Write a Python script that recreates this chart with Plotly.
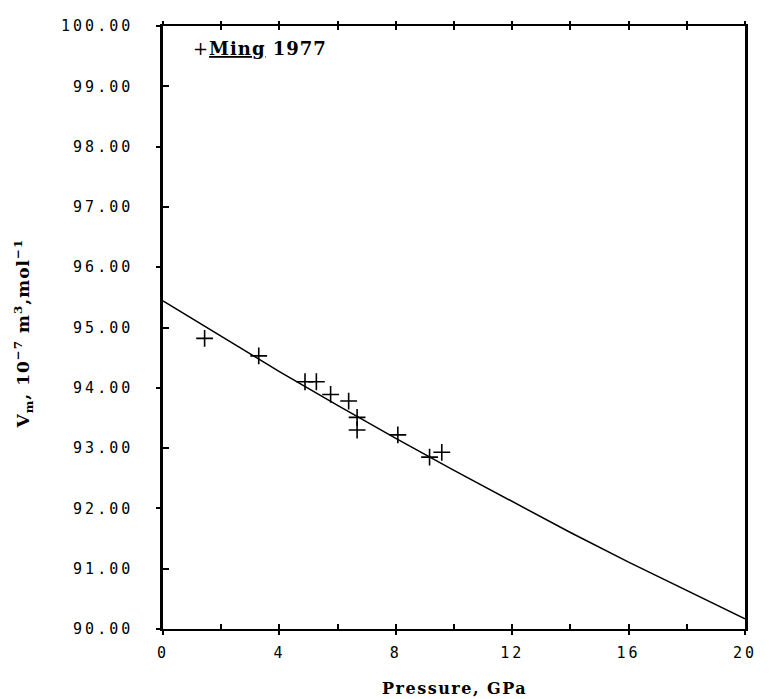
import plotly.graph_objects as go

# Data
pressure_pts = [1.43, 3.29, 4.88, 5.27, 5.76, 6.38, 6.67, 6.67, 8.07, 9.16, 9.58]
volume_pts = [94.82, 94.53, 94.10, 94.10, 93.89, 93.78, 93.51, 93.30, 93.22, 92.85, 92.93]

pressure_fit = [0, 2, 4, 6, 8, 10, 12, 14, 16, 18, 20]
volume_fit = [95.44, 94.85, 94.27, 93.71, 93.16, 92.63, 92.11, 91.60, 91.11, 90.64, 90.17]

x_label_vals = [0, 4, 8, 12, 16, 20]
x_minor_vals = [0, 2, 4, 6, 8, 10, 12, 14, 16, 18, 20]
y_label_vals = [90, 91, 92, 93, 94, 95, 96, 97, 98, 99, 100]
y_label_text = ["90.00", "91.00", "92.00", "93.00", "94.00", "95.00",
                "96.00", "97.00", "98.00", "99.00", "100.00"]
y_even_vals = [90, 92, 94, 96, 98, 100]
y_odd_vals = [91, 93, 95, 97, 99]

XR = [0, 20]
YR = [90, 100]
tickfont = dict(family="DejaVu Sans Mono", size=15, color="black")
serif = "DejaVu Serif"

def spaced(s, sp=3):
    return '<span style="letter-spacing:%spx">%s</span>' % (sp, s)

fig = go.Figure()
fig.add_trace(go.Scatter(x=pressure_fit, y=volume_fit, mode="lines",
                         line=dict(color="black", width=1.5), showlegend=False,
                         hoverinfo="skip"))
fig.add_trace(go.Scatter(x=pressure_pts, y=volume_pts, mode="markers",
                         marker=dict(symbol="cross-thin-open", size=12,
                                     color="black",
                                     line=dict(color="black", width=1.6)),
                         showlegend=False))

fig.update_layout(
    width=769, height=699,
    margin=dict(l=163, r=17, t=26, b=70),
    plot_bgcolor="white", paper_bgcolor="white",
    showlegend=False,
    xaxis=dict(range=XR, tickmode="array", tickvals=x_label_vals,
               ticktext=[spaced(str(v)) for v in x_label_vals],
               ticks="outside", ticklen=4, tickwidth=1.5, tickcolor="black",
               showline=True, linecolor="black", linewidth=2, mirror=True,
               showgrid=False, zeroline=False, tickfont=tickfont,
               ticklabelstandoff=5),
    xaxis2=dict(range=XR, overlaying="x", side="bottom", anchor="y",
                tickmode="array", tickvals=x_minor_vals, ticks="inside",
                ticklen=5, tickwidth=1.5, tickcolor="black",
                showticklabels=False, showline=False, showgrid=False,
                zeroline=False),
    xaxis3=dict(range=XR, overlaying="x", side="top", anchor="y",
                tickmode="array", tickvals=x_minor_vals, ticks="outside",
                ticklen=4, tickwidth=1.5, tickcolor="black",
                showticklabels=False, showline=False, showgrid=False,
                zeroline=False),
    xaxis4=dict(range=XR, overlaying="x", side="top", anchor="y",
                tickmode="array", tickvals=x_minor_vals, ticks="inside",
                ticklen=4, tickwidth=1.5, tickcolor="black",
                showticklabels=False, showline=False, showgrid=False,
                zeroline=False),
    yaxis=dict(range=YR, tickmode="array", tickvals=y_label_vals,
               ticktext=[spaced(t) for t in y_label_text], ticks="",
               showline=True, linecolor="black", linewidth=2.5, mirror=True,
               showgrid=False, zeroline=False, tickfont=tickfont,
               ticklabelstandoff=24),
    yaxis2=dict(range=YR, overlaying="y", side="left", anchor="x",
                tickmode="array", tickvals=y_even_vals, ticks="outside",
                ticklen=6, tickwidth=1.5, tickcolor="black",
                showticklabels=False, showline=False, showgrid=False,
                zeroline=False),
    yaxis3=dict(range=YR, overlaying="y", side="left", anchor="x",
                tickmode="array", tickvals=y_odd_vals, ticks="inside",
                ticklen=6, tickwidth=1.5, tickcolor="black",
                showticklabels=False, showline=False, showgrid=False,
                zeroline=False),
)

# invisible traces so the overlay tick axes render
for xa, ya in [("x2", "y"), ("x3", "y"), ("x4", "y"), ("x", "y2"), ("x", "y3")]:
    fig.add_trace(go.Scatter(x=[None], y=[None], xaxis=xa, yaxis=ya,
                             showlegend=False, hoverinfo="skip"))

fig.add_annotation(text=spaced("<b>Pressure, GPa</b>", 1.5), xref="paper", yref="paper",
                   x=0.5, y=-0.098, xanchor="center", yanchor="middle",
                   showarrow=False,
                   font=dict(family=serif, size=16, color="black"))
fig.add_annotation(text=spaced("<b>V<sub>m</sub>, 10<sup>\u22127</sup> m<sup>3</sup>,mol<sup>\u22121</sup></b>", 1),
                   xref="paper", yref="paper", x=-0.239, y=0.49,
                   xanchor="center", yanchor="middle", textangle=-90,
                   showarrow=False,
                   font=dict(family=serif, size=17, color="black"))
fig.add_annotation(text=spaced("+<b><u>Ming</u> 1977</b>", 1), xref="paper", yref="paper",
                   x=0.048, y=0.963, xanchor="left", yanchor="middle",
                   showarrow=False,
                   font=dict(family=serif, size=18, color="black"))

fig.write_html("out.html", config={"displayModeBar": False},
               post_script="document.body.style.margin='0px';")
